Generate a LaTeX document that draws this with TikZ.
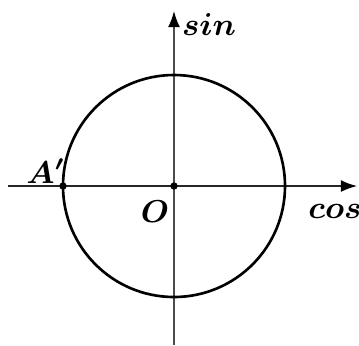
\documentclass[tikz,border=0pt]{standalone}
\usepackage{amsmath,amssymb,bm}
\usepackage{tikz}
\usetikzlibrary{arrows.meta,calc,positioning}

\begin{document}
\begin{tikzpicture}[x=0.01cm,y=-0.01cm,font=\fontsize{9}{10}\selectfont,>={Latex[length=4.6pt,width=3.4pt,color=black]}]
\useasboundingbox (0,0) rectangle (359,345);
\coordinate (o) at (174,186); \coordinate (a) at (63,186);
\coordinate (xl) at (8,186); \coordinate (xr) at (357,186);
\coordinate (yb) at (174,345); \coordinate (yt) at (174,11);
\draw[->,line width=0.45pt,black!85] (xl)--(xr);
\draw[->,line width=0.45pt,black!70] (yb)--(yt);
\draw[line width=0.75pt] (o) circle (111);
\fill (o) circle (1.05pt); \fill (a) circle (1.05pt);
\node (sinlbl) at (209,25) {$\bm{sin}$};
\node (coslbl) at (335,211) {$\bm{cos}$};
\node (olbl) at (155,212) {$\bm{O}$};
\node (albl) at (46,171) {$\bm{A'}$};
\end{tikzpicture}
\end{document}
